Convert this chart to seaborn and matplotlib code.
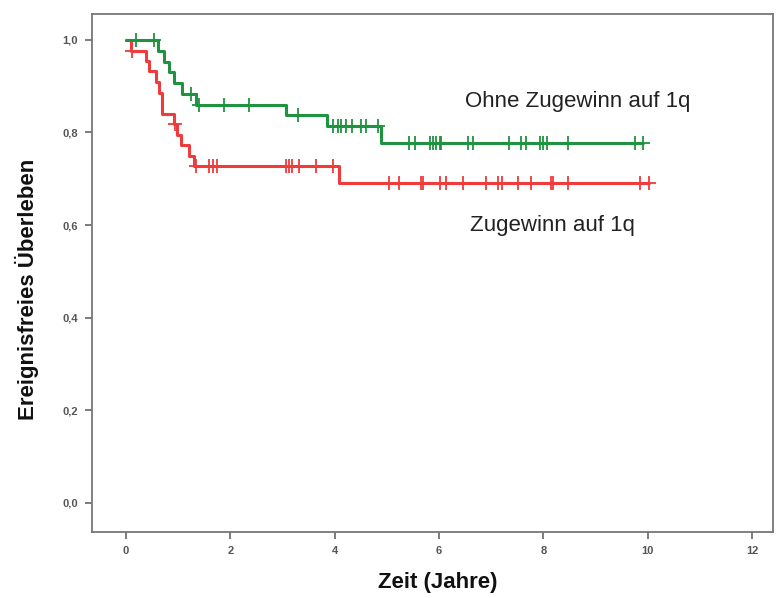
import numpy as np
import pandas as pd
import matplotlib
matplotlib.use("Agg")
import matplotlib.pyplot as plt
import seaborn as sns

# Kaplan-Meier steps (time in years, survival after step)
green_times = [0.0, 0.62, 0.73, 0.83, 0.93, 1.08, 1.35, 3.07, 3.86, 4.89]
green_surv = [1.0, 0.977, 0.953, 0.930, 0.907, 0.884, 0.860, 0.838, 0.813, 0.778]
green_censor = [0.19, 0.54, 1.25, 1.40, 1.88, 2.36, 3.29, 3.96, 4.06, 4.12, 4.21,
                4.34, 4.50, 4.60, 4.83, 5.43, 5.53, 5.82, 5.88, 5.94, 6.01, 6.04,
                6.55, 6.65, 7.35, 7.58, 7.67, 7.93, 7.99, 8.06, 8.47, 9.75, 9.90]

red_times = [0.0, 0.09, 0.38, 0.44, 0.57, 0.63, 0.70, 0.92, 0.98, 1.05, 1.21, 1.30, 4.09]
red_surv = [1.0, 0.977, 0.955, 0.932, 0.909, 0.886, 0.841, 0.818, 0.795, 0.773,
            0.750, 0.727, 0.690]
red_censor = [0.12, 0.95, 1.34, 1.59, 1.66, 1.75, 3.07, 3.13, 3.19, 3.32, 3.64, 3.96,
              5.05, 5.24, 5.66, 5.69, 6.01, 6.14, 6.46, 6.90, 7.13, 7.20, 7.51, 7.77,
              8.15, 8.18, 8.47, 9.85, 10.02]

x_ticks = [0, 2, 4, 6, 8, 10, 12]
y_ticks = [0.0, 0.2, 0.4, 0.6, 0.8, 1.0]
y_ticklabels = ["0,0", "0,2", "0,4", "0,6", "0,8", "1,0"]

label_green = "Ohne Zugewinn auf 1q"
label_red = "Zugewinn auf 1q"

GREEN = "#1f9340"
RED = "#ef3b3b"

sns.set_style("white")
plt.rcParams["font.family"] = ["Liberation Sans", "DejaVu Sans"]


def curve_frame(times, surv, censor):
    # extend the last level to the last censored time
    x = list(times) + [max(censor)]
    y = list(surv) + [surv[-1]]
    return pd.DataFrame({"t": x, "s": y})


def censor_frame(times, surv, censor):
    idx = np.searchsorted(times, censor, side="right") - 1
    return pd.DataFrame({"t": censor, "s": np.array(surv)[idx]})


fig = plt.figure(figsize=(7.77, 5.98), dpi=100)
ax = fig.add_axes([0.1184, 0.1104, 0.8765, 0.867])

for times, surv, cens, col in [(red_times, red_surv, red_censor, RED),
                               (green_times, green_surv, green_censor, GREEN)]:
    line = curve_frame(times, surv, cens)
    sns.lineplot(data=line, x="t", y="s", ax=ax, color=col, lw=2.2,
                 drawstyle="steps-post", estimator=None, sort=False)
    marks = censor_frame(times, surv, cens)
    sns.scatterplot(data=marks, x="t", y="s", ax=ax, color=col, marker="+",
                    s=90, linewidth=1.3, zorder=3)

ax.text(6.49, 0.866, label_green, fontsize=16, va="center", ha="left", color="#222222")
ax.text(6.59, 0.60, label_red, fontsize=16, va="center", ha="left", color="#222222")

ax.set_xlim(-0.65, 12.40)
ax.set_ylim(-0.063, 1.057)
ax.set_xticks(x_ticks)
ax.set_xticklabels([str(v) for v in x_ticks])
ax.set_yticks(y_ticks)
ax.set_yticklabels(y_ticklabels)
ax.tick_params(axis="both", direction="out", length=5, width=1.2, color="#666666",
               labelsize=8, labelcolor="#555555", pad=5, bottom=True, left=True)
for lab in ax.get_xticklabels() + ax.get_yticklabels():
    lab.set_fontweight("bold")

for sp in ax.spines.values():
    sp.set_visible(True)
    sp.set_color("#777777")
    sp.set_linewidth(1.3)

ax.set_xlabel("Zeit (Jahre)", fontsize=16, fontweight="bold", color="#111111")
ax.set_ylabel("Ereignisfreies Überleben", fontsize=16, fontweight="bold", color="#111111")
ax.xaxis.set_label_coords(0.507, -0.077)
ax.yaxis.set_label_coords(-0.078, 0.467)

fig.savefig("out.png", dpi=100)
plt.close(fig)
